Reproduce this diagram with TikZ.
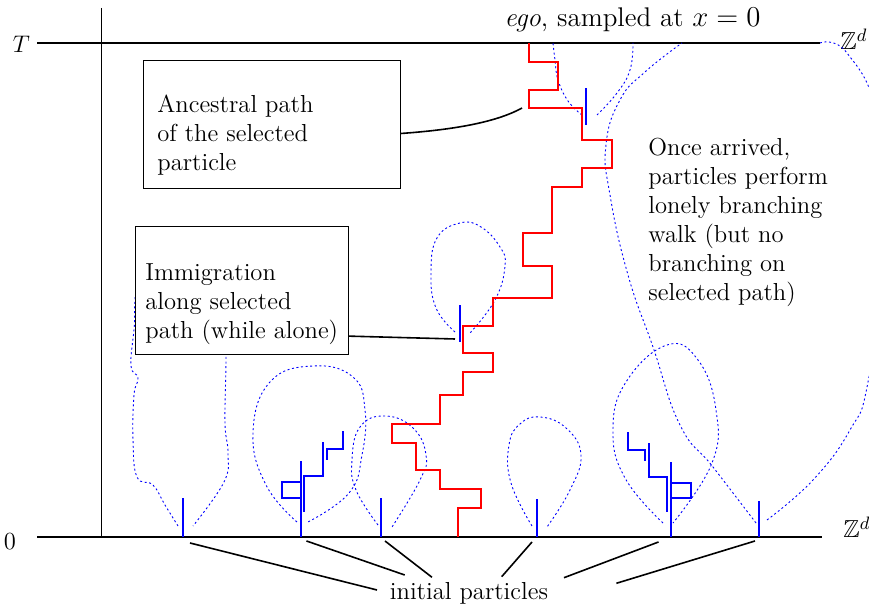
\documentclass[tikz,border=0pt]{standalone}
\usepackage{amssymb}
\begin{document}
\begin{tikzpicture}[x=0.5pt,y=-0.5pt,
  txt/.style={font=\fontsize{12.3}{14.5}\selectfont, inner sep=0pt},
  boxnode/.style={draw, line width=0.5pt, fill=white, inner sep=0pt},
  haxis/.style={line width=0.75pt},
  vaxis/.style={line width=0.5pt},
  redpath/.style={red, line width=0.6pt},
  ptick/.style={blue, line width=0.7pt},
  bush/.style={blue, line width=1.0pt},
  dots/.style={blue, line width=0.45pt, dash pattern=on 1pt off 1.3pt},
  conn/.style={line width=0.8pt}]
\useasboundingbox (0,0) rectangle (869,608);
% axes
\draw[vaxis] (101,8) -- (101,537);
\draw[haxis] (37,43) -- (820,43);
\draw[haxis] (37,537) -- (822,537);
\node[txt, anchor=base] (tlab) at (21.5,53) {$T$};
\node[txt, anchor=base] (zlab) at (10,550) {0};
\node[txt, anchor=base west] (zt) at (840,50) {$\mathbb{Z}^d$};
\node[txt, anchor=base west] (zb) at (843,538) {$\mathbb{Z}^d$};
\node[txt, font=\fontsize{13.5}{16}\selectfont, anchor=base] (ego) at (632.5,27) {\emph{ego}, sampled at $x=0$};
% dotted bushes
\draw[dots] plot[smooth, tension=0.7] coordinates {(178,526) (165,505) (153,485) (137,477) (133,440) (134,395) (138,378) (131,366) (134,330) (140,280) (175,250) (215,258) (226,300) (226,360) (225,423) (228,453) (224,482) (193,526)};
\draw[dots] plot[smooth, tension=0.75] coordinates {(297,522) (266,485) (253,433) (270,382) (313,366) (353,377) (365,410) (362,455) (349,493) (308,522)};
\draw[dots] plot[smooth, tension=0.75] coordinates {(378,525) (356,490) (352,460) (360,427) (385,416) (413,428) (426,455) (420,480) (392,527)};
\draw[dots] plot[smooth, tension=0.75] coordinates {(532,526) (511,483) (509,445) (520,424) (540,417) (566,428) (581,455) (570,490) (547,527)};
\draw[dots] plot[smooth, tension=0.75] coordinates {(663,523) (625,478) (613,430) (626,382) (667,345) (698,360) (716,410) (712,463) (673,523)};
\draw[dots] plot[smooth, tension=0.8] coordinates {(756,523) (713,467) (680,425) (653,347) (628,275) (610,195) (606,145) (620,100) (645,72) (682,43)};
\draw[dots] plot[smooth, tension=0.75] coordinates {(767,520) (813,480) (850,430) (868,382) (885,250) (878,120) (847,53) (820,43)};
\draw[dots] plot[smooth, tension=0.75] coordinates {(582,115) (568,101) (558,80) (555,60) (553,43)};
\draw[dots] plot[smooth, tension=0.75] coordinates {(597,115) (617,93) (630,70) (633,43)};
\draw[dots] plot[smooth, tension=0.75] coordinates {(455,332) (436,308) (431,273) (437,238) (460,223) (481,227) (500,247) (505,266) (495,300) (470,333)};
% red ancestral path
\draw[redpath] (458,537) -- (458,508) -- (481,508) -- (481,489) -- (440,489) -- (440,470) -- (416,470) -- (416,443) -- (392,443) -- (392,424) -- (440,424) -- (440,395) -- (463,395) -- (463,372) -- (493,372) -- (493,353) -- (463,353) -- (463,326) -- (493,326) -- (493,298) -- (552,298) -- (552,266) -- (523,266) -- (523,233) -- (552,233) -- (552,187) -- (582,187) -- (582,168) -- (612,168) -- (612,140) -- (582,140) -- (582,108) -- (529,108) -- (529,90) -- (558,90) -- (558,62) -- (529,62) -- (529,43);
% particle ticks
\draw[ptick] (183,537) -- (183,498);
\draw[ptick] (381,537) -- (381,498);
\draw[ptick] (537,537) -- (537,499);
\draw[ptick] (759,537) -- (759,501);
\draw[ptick] (586,125) -- (586,88);
\draw[ptick] (460,342) -- (460,305);
% branching bushes
\draw[bush] (301,537) -- (301,461);
\draw[bush] (301,482) -- (282,482) -- (282,498) -- (301,498);
\draw[bush] (304,512) -- (304,476) -- (323,476) -- (323,442);
\draw[bush] (327,460) -- (327,449) -- (343,449) -- (343,431);
\draw[bush] (671,537) -- (671,462);
\draw[bush] (671,483) -- (691,483) -- (691,498) -- (671,498);
\draw[bush] (667,512) -- (667,477) -- (649,477) -- (649,443);
\draw[bush] (645,461) -- (645,450) -- (628,450) -- (628,432);
% boxes
\node[boxnode, minimum width=128.5pt, minimum height=63.75pt] (anc) at (271.5,124.5) {};
\node[txt, anchor=north west, align=left] (anctxt) at (157,95) {Ancestral path\\of the selected\\particle};
\node[boxnode, minimum width=106.3pt, minimum height=64.2pt] (imm) at (242,290.8) {};
\node[txt, anchor=north west, align=left] (immtxt) at (145,263.6) {Immigration\\along selected\\path (while alone)};
\node[txt, anchor=north west, align=left] (once) at (648,138) {Once arrived,\\particles perform\\lonely branching\\walk (but no\\branching on\\selected path)};
% connectors of the boxes
\coordinate (ancend) at (522,108);
\coordinate (immend) at (455,339);
\draw[conn] (anc.-4.2) .. controls (450,130) and (495,123) .. (ancend);
\draw[conn] (imm.-23.4) -- (immend);
% initial particles
\node[txt, anchor=base] (init) at (469,600) {initial particles};
\coordinate (p1) at (190,543);   \coordinate (q1) at (377,590);
\coordinate (p2) at (306.5,541); \coordinate (q2) at (404.7,575);
\coordinate (p3) at (385,541);   \coordinate (q3) at (432,577.3);
\coordinate (p4) at (532,542);   \coordinate (q4) at (501.7,576.7);
\coordinate (p5) at (658.5,542); \coordinate (q5) at (564,577.7);
\coordinate (p6) at (755,541);   \coordinate (q6) at (616.4,583.3);
\foreach \i in {1,...,6} {\draw[conn] (p\i) -- (q\i);}
\end{tikzpicture}
\end{document}
